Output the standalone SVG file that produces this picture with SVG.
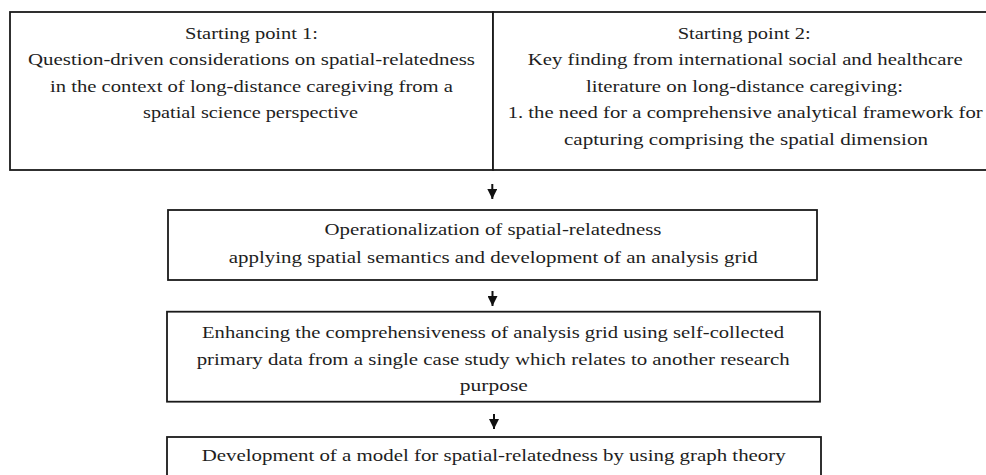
<svg xmlns="http://www.w3.org/2000/svg" width="986" height="475" viewBox="0 0 986 475">
<style>
.box{fill:#fff;stroke:#1a1a1a;stroke-width:1.8}
.t{font-family:"Liberation Serif","Times New Roman",serif;font-size:17px;fill:#1e1e1e;text-anchor:start}
.a{stroke:#111;stroke-width:2}
</style>
<defs>
<marker id="ah" viewBox="0 0 10 10" refX="10" refY="5" markerWidth="10" markerHeight="10" markerUnits="userSpaceOnUse" orient="auto">
<path d="M0,0 L10,5 L0,10 z" fill="#111"/>
</marker>
</defs>
<rect width="986" height="475" fill="#fff"/>
<g id="start1">
<rect class="box" x="10" y="12" width="483" height="158"/>
<text class="t" x="185" y="38.5" textLength="133" lengthAdjust="spacingAndGlyphs">Starting point 1:</text>
<text class="t" x="28" y="65" textLength="447" lengthAdjust="spacingAndGlyphs">Question-driven considerations on spatial-relatedness</text>
<text class="t" x="50" y="91.5" textLength="403" lengthAdjust="spacingAndGlyphs">in the context of long-distance caregiving from a</text>
<text class="t" x="143" y="118" textLength="215" lengthAdjust="spacingAndGlyphs">spatial science perspective</text>
</g>
<g id="start2">
<rect class="box" x="493" y="12" width="502" height="158"/>
<text class="t" x="677.7" y="38.5" textLength="133" lengthAdjust="spacingAndGlyphs">Starting point 2:</text>
<text class="t" x="527.7" y="65" textLength="435" lengthAdjust="spacingAndGlyphs">Key finding from international social and healthcare</text>
<text class="t" x="586" y="91.5" textLength="317" lengthAdjust="spacingAndGlyphs">literature on long-distance caregiving:</text>
<text class="t" x="507.7" y="118" textLength="475" lengthAdjust="spacingAndGlyphs">1. the need for a comprehensive analytical framework for</text>
<text class="t" x="564" y="144.5" textLength="364" lengthAdjust="spacingAndGlyphs">capturing comprising the spatial dimension</text>
</g>
<g id="step1">
<rect class="box" x="168" y="210" width="649" height="70"/>
<text class="t" x="324.5" y="235" textLength="337" lengthAdjust="spacingAndGlyphs">Operationalization of spatial-relatedness</text>
<text class="t" x="228.7" y="263" textLength="529" lengthAdjust="spacingAndGlyphs">applying spatial semantics and development of an analysis grid</text>
</g>
<g id="step2">
<rect class="box" x="167" y="311.7" width="653" height="90"/>
<text class="t" x="202" y="338" textLength="582" lengthAdjust="spacingAndGlyphs">Enhancing the comprehensiveness of analysis grid using self-collected</text>
<text class="t" x="196.7" y="365" textLength="593" lengthAdjust="spacingAndGlyphs">primary data from a single case study which relates to another research</text>
<text class="t" x="459.8" y="391" textLength="68" lengthAdjust="spacingAndGlyphs">purpose</text>
</g>
<g id="step3">
<rect class="box" x="167" y="437" width="654" height="60"/>
<text class="t" x="201.7" y="461" textLength="584" lengthAdjust="spacingAndGlyphs">Development of a model for spatial-relatedness by using graph theory</text>
</g>
<g id="connectors">
<line class="a" x1="492.3" y1="184" x2="492.3" y2="199" marker-end="url(#ah)"/>
<line class="a" x1="492.5" y1="291" x2="492.5" y2="306" marker-end="url(#ah)"/>
<line class="a" x1="494" y1="414" x2="494" y2="429" marker-end="url(#ah)"/>
</g>
</svg>
